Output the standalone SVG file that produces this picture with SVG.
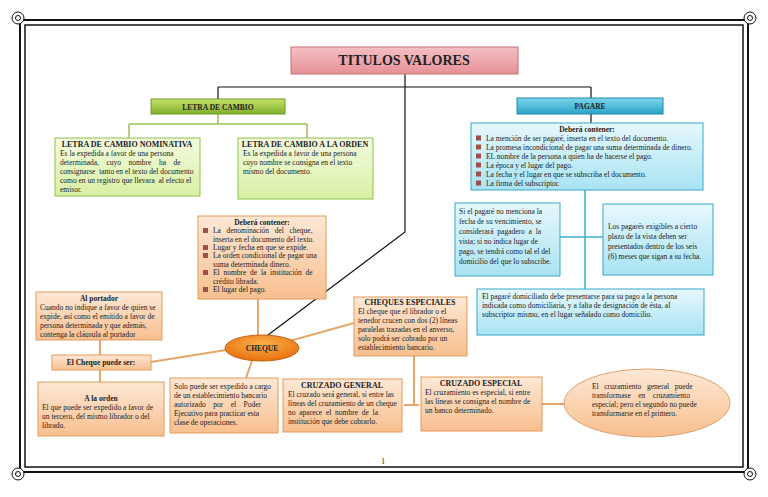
<svg xmlns="http://www.w3.org/2000/svg" width="768" height="497" viewBox="0 0 768 497">
<defs>
<linearGradient id="gp" x1="0" y1="0" x2="0" y2="1"><stop offset="0" stop-color="#f4c0c4"/><stop offset="1" stop-color="#e59096"/></linearGradient>
<linearGradient id="gg" x1="0" y1="0" x2="0" y2="1"><stop offset="0" stop-color="#c6e36a"/><stop offset="1" stop-color="#7fae2a"/></linearGradient>
<linearGradient id="gl" x1="0" y1="0" x2="0" y2="1"><stop offset="0" stop-color="#f3fbe0"/><stop offset="1" stop-color="#d8f0a4"/></linearGradient>
<linearGradient id="gb" x1="0" y1="0" x2="0" y2="1"><stop offset="0" stop-color="#7fd6ec"/><stop offset="1" stop-color="#2aa4c8"/></linearGradient>
<linearGradient id="gc" x1="0" y1="0" x2="0" y2="1"><stop offset="0" stop-color="#e6f8fd"/><stop offset="1" stop-color="#a9e3f3"/></linearGradient>
<linearGradient id="go" x1="0" y1="0" x2="0" y2="1"><stop offset="0" stop-color="#fde8d6"/><stop offset="1" stop-color="#f8bf8e"/></linearGradient>
<radialGradient id="ge" cx="0.5" cy="0.35" r="0.6"><stop offset="0" stop-color="#fbb04a"/><stop offset="1" stop-color="#e87612"/></radialGradient>
</defs>
<style>
text{font-family:"Liberation Serif","Times New Roman",serif;fill:#222;font-size:7.5px;white-space:pre}
.b{font-weight:bold}
.c{text-anchor:middle}
.g{stroke:#9fbf5a;stroke-width:1.5;fill:none}
.o{stroke:#e8a56a;stroke-width:2;fill:none}
.bl{stroke:#3ab0cf;stroke-width:1.5;fill:none}
.k{stroke:#111;stroke-width:1.2;fill:none}
.ob{fill:url(#go);stroke:#e39a5c;stroke-width:1}
.cb{fill:url(#gc);stroke:#3aa7c9;stroke-width:1}
.lb{fill:url(#gl);stroke:#8fc24a;stroke-width:1}
</style>
<rect width="768" height="497" fill="#fff"/>
<g id="border" fill="none" stroke="#111">
<rect x="20" y="20" width="728" height="452" stroke-width="2"/>
<rect x="25" y="25" width="718" height="442" stroke-width="1.5"/>
<circle cx="18" cy="18" r="6" fill="#fff" stroke-width="1"/><circle cx="18" cy="18" r="2.5"/>
<circle cx="750" cy="18" r="6" fill="#fff" stroke-width="1"/><circle cx="750" cy="18" r="2.5"/>
<circle cx="18" cy="474" r="6" fill="#fff" stroke-width="1"/><circle cx="18" cy="474" r="2.5"/>
<circle cx="750" cy="474" r="6" fill="#fff" stroke-width="1"/><circle cx="750" cy="474" r="2.5"/>
</g>
<g id="connectors">
<path class="k" d="M405 74V87M218 87H591M218 87V99M591 87V98M591 114V123M405 87V232L264 338"/>
<path class="g" d="M218 114V124M129 124H307M129 124V138M307 124V138"/>
<path class="bl" d="M585 190V289M560 237H603"/>
<path class="o" d="M258 299V336M286 342L354 323M151 362L226 350M100 340V355M100 370V382M252 361L246 378M414 356V405M404 405H419M542 404H564"/>
</g>
<g id="title"><rect x="291" y="47" width="227" height="27" fill="url(#gp)" stroke="#c57078"/><text x="404" y="65" class="b c" style="font-size:14px">TITULOS VALORES</text></g>
<g id="letra"><rect x="151" y="99" width="134" height="15" fill="url(#gg)" stroke="#6f9a2a"/><text x="218" y="109.5" class="b c">LETRA DE CAMBIO</text></g>
<g id="nominativa"><rect x="55" y="138" width="145" height="58" class="lb"/>
<text x="127" y="146.5" class="b c" style="font-size:8px">LETRA DE CAMBIO NOMINATIVA</text>
<text x="60" y="156">Es la expedida a favor de una persona</text>
<text x="60" y="165">determinada,    cuyo    nombre    ha    de</text>
<text x="60" y="174">consignarse  tanto en el texto del documento</text>
<text x="60" y="183">como en un registro que llevara  al efecto el</text>
<text x="60" y="192">emisor.</text></g>
<g id="orden"><rect x="238" y="138" width="135" height="61" class="lb"/>
<text x="305" y="146.5" class="b c" style="font-size:8px">LETRA DE CAMBIO A LA ORDEN</text>
<text x="243" y="156">Es la expedida a favor de una persona</text>
<text x="243" y="165">cuyo nombre se consigna en el texto</text>
<text x="243" y="174">mismo del documento.</text></g>
<g id="pagare"><rect x="517" y="98" width="146" height="16" fill="url(#gb)" stroke="#1d88a8"/><text x="590" y="108.5" class="b c">PAGARE</text></g>
<g id="pagare-contenido"><rect x="471" y="123" width="232" height="67" class="cb"/>
<text x="587" y="132" class="b c">Deberá contener:</text>
<g fill="#a0504a"><rect x="476" y="135.5" width="5" height="5"/><rect x="476" y="144.5" width="5" height="5"/><rect x="476" y="153.5" width="5" height="5"/><rect x="476" y="162.5" width="5" height="5"/><rect x="476" y="171.5" width="5" height="5"/><rect x="476" y="180.5" width="5" height="5"/></g>
<text x="486" y="141">La mención de ser pagaré, inserta en el texto del documento.</text>
<text x="486" y="150">La promesa incondicional de pagar una suma determinada de dinero.</text>
<text x="486" y="159">EL nombre de la persona a quien ha de hacerse el pago.</text>
<text x="486" y="168">La época y el lugar del pago.</text>
<text x="486" y="177">La fecha y el lugar en que se subscriba el documento.</text>
<text x="486" y="186">La firma del subscriptor.</text></g>
<g id="pagare-vista"><rect x="455" y="203" width="105" height="73" class="cb"/>
<text x="459" y="214">Si el pagaré no menciona la</text>
<text x="459" y="224">fecha de su vencimiento, se</text>
<text x="459" y="234">considerará  pagadero  a  la</text>
<text x="459" y="244">vista; si no indica lugar de</text>
<text x="459" y="254">pago, se tendrá como tal el del</text>
<text x="459" y="264">domicilio del que lo subscribe.</text></g>
<g id="pagare-plazo"><rect x="603" y="204" width="110" height="71" class="cb"/>
<text x="608" y="229">Los pagarés exigibles a cierto</text>
<text x="608" y="239">plazo de la vista deben ser</text>
<text x="608" y="249">presentados dentro de los seis</text>
<text x="608" y="259">(6) meses que sigan a su fecha.</text></g>
<g id="pagare-domiciliado"><rect x="477" y="289" width="227" height="46" class="cb"/>
<text x="482" y="299">El pagaré domiciliado debe presentarse para su pago a la persona</text>
<text x="482" y="308">indicada como domiciliaria, y a falta de designación de ésta, al</text>
<text x="482" y="317">subscriptor mismo, en el lugar señalado como domicilio.</text></g>
<g id="cheque-contenido"><rect x="198" y="216" width="128" height="83" class="ob"/>
<text x="262" y="225" class="b c">Deberá contener:</text>
<g fill="#a0504a"><rect x="203" y="228" width="5" height="5"/><rect x="203" y="245" width="5" height="5"/><rect x="203" y="253" width="5" height="5"/><rect x="203" y="270" width="5" height="5"/><rect x="203" y="287" width="5" height="5"/></g>
<text x="213" y="233">La   denominación   del   cheque,</text>
<text x="213" y="242">inserta en el documento del texto.</text>
<text x="213" y="250">Lugar y fecha en que se expide.</text>
<text x="213" y="258">La orden condicional de pagar una</text>
<text x="213" y="267">suma determinada dinero.</text>
<text x="213" y="275">El  nombre  de  la  institución  de</text>
<text x="213" y="284">crédito librada.</text>
<text x="213" y="292">El lugar del pago.</text></g>
<g id="cheque"><ellipse cx="262" cy="348" rx="37" ry="13" fill="url(#ge)" stroke="#c8630e"/><text x="262" y="351" class="b c">CHEQUE</text></g>
<g id="portador"><rect x="36" y="292" width="126" height="48" class="ob"/>
<text x="99" y="301" class="b c">Al portador</text>
<text x="40" y="310">Cuando no indique a favor de quien se</text>
<text x="40" y="319">expide, así como el emitido a favor de</text>
<text x="40" y="328">persona determinada y que además,</text>
<text x="40" y="337">contenga la cláusula al portador</text></g>
<g id="puede-ser"><rect x="52" y="355" width="99" height="15" class="ob"/><text x="101" y="365" class="b c">El Cheque puede ser:</text></g>
<g id="a-la-orden"><rect x="38" y="382" width="126" height="54" class="ob"/>
<text x="101" y="401" class="b c">A la orden</text>
<text x="42" y="410">El que puede ser expedido a favor de</text>
<text x="42" y="419">un tercero, del mismo librador o del</text>
<text x="42" y="428">librado.</text></g>
<g id="solo"><rect x="170" y="378" width="108" height="55" class="ob"/>
<text x="174" y="389">Solo puede ser expedido a cargo</text>
<text x="174" y="398">de un establecimiento bancario</text>
<text x="174" y="407">autorizado    por    el    Poder</text>
<text x="174" y="416">Ejecutivo para practicar esta</text>
<text x="174" y="425">clase de operaciones.</text></g>
<g id="especiales"><rect x="354" y="297" width="113" height="59" class="ob"/>
<text x="410" y="305" class="b c" style="font-size:8px">CHEQUES ESPECIALES</text>
<text x="358" y="314">El cheque que el librador o el</text>
<text x="358" y="323">tenedor crucen con dos (2) líneas</text>
<text x="358" y="332">paralelas trazadas en el anverso,</text>
<text x="358" y="341">solo podrá ser cobrado por un</text>
<text x="358" y="350">establecimiento bancario.</text></g>
<g id="general"><rect x="283" y="379" width="119" height="53" class="ob"/>
<text x="342" y="388" class="b c" style="font-size:8px">CRUZADO GENERAL</text>
<text x="288" y="397">El cruzado será general, si entre las</text>
<text x="288" y="406">líneas del cruzamiento de un cheque</text>
<text x="288" y="415">no  aparece  el  nombre  de  la</text>
<text x="288" y="424">institución que debe cobrarlo.</text></g>
<g id="especial"><rect x="421" y="377" width="121" height="54" class="ob"/>
<text x="481" y="386" class="b c" style="font-size:8px">CRUZADO ESPECIAL</text>
<text x="425" y="395">El cruzamiento es especial, si entre</text>
<text x="425" y="404">las líneas se consigna el nombre de</text>
<text x="425" y="413">un banco determinado.</text></g>
<g id="transformacion"><ellipse cx="647" cy="403" rx="83" ry="34" fill="url(#go)" stroke="#e0a070"/>
<text x="592" y="389">El   cruzamiento   general   puede</text>
<text x="592" y="398">transformase    en    cruzamiento</text>
<text x="592" y="407">especial; pero el segundo no puede</text>
<text x="592" y="416">transformarse en el primero.</text></g>
<text x="383" y="464" class="c">1</text>
</svg>
